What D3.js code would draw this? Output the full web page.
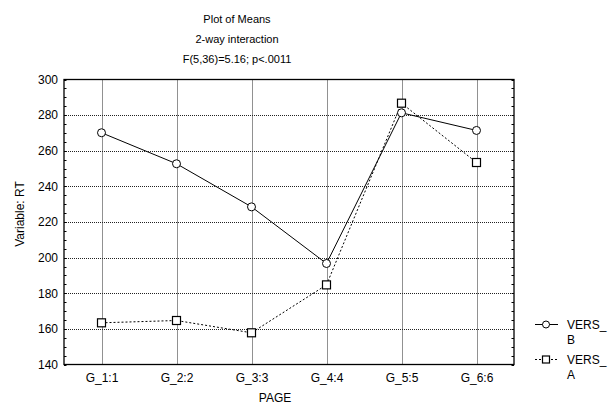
<!DOCTYPE html>
<html><head><meta charset="utf-8">
<script src="https://cdn.jsdelivr.net/npm/d3@7"></script>
<style>body{margin:0;background:#fff}svg{display:block;font-family:"Liberation Sans",Arial,sans-serif}</style>
</head><body>
<svg id="c" width="609" height="404"></svg>
<script>
const categories = ["G_1:1","G_2:2","G_3:3","G_4:4","G_5:5","G_6:6"];
const versB = [270.1, 252.7, 228.5, 196.7, 281.3, 271.4];
const versA = [163.4, 164.7, 157.8, 184.7, 286.7, 253.4];
const yTicks = [140,160,180,200,220,240,260,280,300];
const titles = ["Plot of Means","2-way interaction","F(5,36)=5.16; p<.0011"];

const svg = d3.select("#c");
const L=64, R=514, T=79.5, B=364.5;
const x = d3.scalePoint().domain(categories).range([L,R]).padding(0.5);
const y = d3.scaleLinear().domain([140,300]).range([B,T]);

// grid
const g = svg.append("g");
g.selectAll("line.gy").data(yTicks.slice(1,-1)).join("line")
  .attr("x1",L).attr("x2",R).attr("y1",d=>Math.round(y(d))+0.5).attr("y2",d=>Math.round(y(d))+0.5)
  .attr("stroke","#222").attr("stroke-dasharray","1,1").attr("stroke-width",1);
g.selectAll("line.gx").data(categories).join("line")
  .attr("x1",d=>Math.round(x(d))+0.5).attr("x2",d=>Math.round(x(d))+0.5).attr("y1",T).attr("y2",B)
  .attr("stroke","#222").attr("stroke-dasharray","1,1").attr("stroke-width",1);

// minor ticks left/right
const minor = d3.range(140,301,5);
svg.append("g").selectAll("line").data(minor).join("line")
  .attr("x1",L).attr("x2",L+2.5).attr("y1",d=>Math.round(y(d))+0.5).attr("y2",d=>Math.round(y(d))+0.5)
  .attr("stroke","#000");
svg.append("g").selectAll("line").data(minor).join("line")
  .attr("x1",R-2.5).attr("x2",R).attr("y1",d=>Math.round(y(d))+0.5).attr("y2",d=>Math.round(y(d))+0.5)
  .attr("stroke","#000");

// frame
svg.append("rect").attr("x",L).attr("y",T).attr("width",R-L).attr("height",B-T)
  .attr("fill","none").attr("stroke","#000").attr("stroke-width",1.3);

// axes via d3
const yAxis = d3.axisLeft(y).tickValues(yTicks).tickSize(0).tickPadding(6);
const ya = svg.append("g").attr("transform",`translate(${L},0)`).call(yAxis);
ya.select(".domain").remove();
ya.selectAll("text").attr("font-size",12).attr("font-family","Liberation Sans, Arial").attr("fill","#000");
const xAxis = d3.axisBottom(x).tickSize(0).tickPadding(9);
const xa = svg.append("g").attr("transform",`translate(0,${B})`).call(xAxis);
xa.select(".domain").remove();
xa.selectAll("text").attr("font-size",12).attr("font-family","Liberation Sans, Arial").attr("fill","#000");

// lines
const line = d3.line().x((d,i)=>x(categories[i])).y(d=>y(d));
svg.append("path").datum(versA).attr("d",line).attr("fill","none").attr("stroke","#000")
  .attr("stroke-width",1).attr("stroke-dasharray","2,2");
svg.append("path").datum(versB).attr("d",line).attr("fill","none").attr("stroke","#000").attr("stroke-width",1);

svg.append("g").selectAll("rect").data(versA).join("rect")
  .attr("x",(d,i)=>x(categories[i])-4).attr("y",d=>y(d)-4).attr("width",8).attr("height",8)
  .attr("fill","#fff").attr("stroke","#000").attr("stroke-width",1.2);
svg.append("g").selectAll("circle").data(versB).join("circle")
  .attr("cx",(d,i)=>x(categories[i])).attr("cy",d=>y(d)).attr("r",4)
  .attr("fill","#fff").attr("stroke","#000").attr("stroke-width",1);

// titles
svg.append("g").selectAll("text").data(titles).join("text")
  .attr("x",237).attr("y",(d,i)=>23+i*20).attr("text-anchor","middle")
  .attr("font-size",11).text(d=>d);

// axis labels
svg.append("text").attr("transform","translate(24,214) rotate(-90)").attr("text-anchor","middle")
  .attr("font-size",12).text("Variable: RT");
svg.append("text").attr("x",275).attr("y",402).attr("text-anchor","middle").attr("font-size",12).text("PAGE");

// legend
const leg = [{name:["VERS_","B"],dash:null,sym:"c",y:324.5},{name:["VERS_","A"],dash:"2,2",sym:"s",y:359.5}];
leg.forEach(l=>{
  const lg = svg.append("g");
  lg.append("line").attr("x1",535).attr("x2",558).attr("y1",l.y).attr("y2",l.y).attr("stroke","#000")
    .attr("stroke-dasharray",l.dash);
  if(l.sym==="c") lg.append("circle").attr("cx",546).attr("cy",l.y).attr("r",3.5).attr("fill","#fff").attr("stroke","#000");
  else lg.append("rect").attr("x",542.5).attr("y",l.y-3.5).attr("width",7).attr("height",7).attr("fill","#fff").attr("stroke","#000").attr("stroke-width",1.2);
  lg.selectAll("text").data(l.name).join("text").attr("x",567).attr("y",(d,i)=>l.y+4.5+i*14.5)
    .attr("font-size",12).text(d=>d);
});
</script>
</body></html>
